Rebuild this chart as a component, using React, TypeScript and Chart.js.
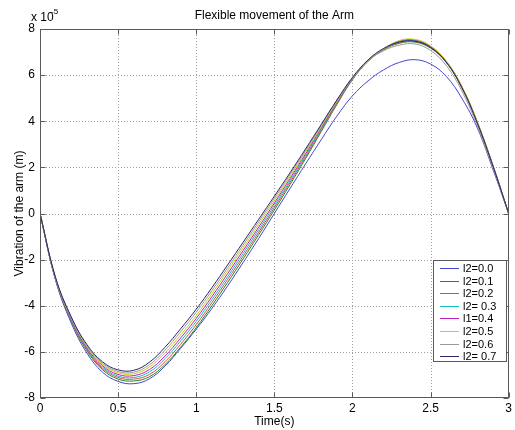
import React, { useEffect, useRef } from 'react';
import { Chart, registerables } from 'chart.js';

Chart.register(...registerables);

// Time samples (s)
const TIME = [0, 0.1, 0.2, 0.3, 0.4, 0.5, 0.6, 0.7, 0.8, 0.9, 1.0, 1.1, 1.2, 1.3, 1.4, 1.5, 1.6, 1.7, 1.8, 1.9, 2.0, 2.1, 2.2, 2.3, 2.4, 2.5, 2.6, 2.7, 2.8, 2.9, 3.0];

// Vibration values in units of 1e-5 m
const L2_00 = [0, -2.9, -4.75, -6.05, -6.88, -7.28, -7.38, -7.17, -6.62, -5.85, -5.02, -4.12, -3.15, -2.13, -1.08, 0.0, 1.08, 2.15, 3.2, 4.22, 5.1, 5.75, 6.23, 6.55, 6.67, 6.48, 5.95, 5.0, 3.7, 1.9, 0];
const L2_01 = [0, -2.88, -4.65, -5.95, -6.77, -7.18, -7.26, -7.08, -6.55, -5.8, -4.95, -4.0, -3.0, -1.97, -0.92, 0.15, 1.25, 2.38, 3.55, 4.72, 5.8, 6.6, 7.1, 7.38, 7.43, 7.17, 6.55, 5.45, 3.9, 2.05, 0];
const L2_02 = [0, -2.86, -4.62, -5.9, -6.71, -7.11, -7.18, -6.98, -6.43, -5.67, -4.82, -3.87, -2.87, -1.85, -0.81, 0.25, 1.34, 2.45, 3.6, 4.75, 5.82, 6.61, 7.11, 7.42, 7.47, 7.2, 6.56, 5.46, 3.91, 2.05, 0];
const L2_03 = [0, -2.85, -4.59, -5.86, -6.66, -7.05, -7.11, -6.87, -6.3, -5.53, -4.68, -3.74, -2.75, -1.73, -0.7, 0.35, 1.42, 2.52, 3.65, 4.79, 5.83, 6.62, 7.12, 7.45, 7.5, 7.23, 6.58, 5.48, 3.93, 2.06, 0];
const L1_04 = [0, -2.83, -4.57, -5.82, -6.6, -6.98, -7.03, -6.77, -6.18, -5.4, -4.55, -3.61, -2.62, -1.61, -0.59, 0.45, 1.51, 2.59, 3.71, 4.82, 5.85, 6.63, 7.13, 7.47, 7.52, 7.25, 6.6, 5.5, 3.95, 2.07, 0];
const L2_05 = [0, -2.81, -4.54, -5.77, -6.54, -6.91, -6.95, -6.66, -6.05, -5.27, -4.42, -3.48, -2.49, -1.49, -0.47, 0.55, 1.59, 2.66, 3.76, 4.85, 5.87, 6.64, 7.14, 7.5, 7.55, 7.27, 6.62, 5.52, 3.97, 2.08, 0];
const L2_06 = [0, -2.8, -4.51, -5.73, -6.49, -6.85, -6.88, -6.56, -5.93, -5.13, -4.28, -3.35, -2.37, -1.37, -0.36, 0.65, 1.68, 2.73, 3.81, 4.89, 5.86, 6.62, 7.06, 7.3, 7.35, 7.07, 6.42, 5.32, 3.78, 1.95, 0];
const L2_07 = [0, -2.78, -4.48, -5.68, -6.43, -6.78, -6.8, -6.45, -5.8, -5.0, -4.15, -3.22, -2.24, -1.25, -0.25, 0.75, 1.76, 2.8, 3.86, 4.92, 5.9, 6.66, 7.16, 7.43, 7.47, 7.2, 6.57, 5.47, 3.92, 2.05, 0];

const SERIES = [L2_00, L2_01, L2_02, L2_03, L1_04, L2_05, L2_06, L2_07];
const SERIES_LABELS = ['l2=0.0', 'l2=0.1', 'l2=0.2', 'l2= 0.3', 'l1=0.4', 'l2=0.5', 'l2=0.6', 'l2= 0.7'];
const SERIES_COLORS = ['#4646d2', '#1f8a1f', '#e04848', '#10c0c0', '#c020c0', '#cccc10', '#9a9a9a', '#26266e'];

const X_TICKS = [0, 0.5, 1, 1.5, 2, 2.5, 3];
const Y_TICKS = [-8, -6, -4, -2, 0, 2, 4, 6, 8];

const TITLE = 'Flexible movement of the Arm';
const X_LABEL = 'Time(s)';
const Y_LABEL = 'Vibration of the arm (m)';

const FONT = '"Liberation Sans", Arial, sans-serif';

const framePlugin = {
  id: 'matlabFrame',
  beforeDatasetsDraw(chart: any) {
    const { ctx, chartArea, scales } = chart;
    const { left, right, top, bottom } = chartArea;
    ctx.save();
    ctx.strokeStyle = '#a0a0a0';
    ctx.lineWidth = 1;
    ctx.setLineDash([1, 2]);
    X_TICKS.slice(1, -1).forEach((v) => {
      const px = Math.round(scales.x.getPixelForValue(v)) + 0.5;
      ctx.beginPath();
      ctx.moveTo(px, top);
      ctx.lineTo(px, bottom);
      ctx.stroke();
    });
    Y_TICKS.slice(1, -1).forEach((v) => {
      const py = Math.round(scales.y.getPixelForValue(v)) + 0.5;
      ctx.beginPath();
      ctx.moveTo(left, py);
      ctx.lineTo(right, py);
      ctx.stroke();
    });
    ctx.restore();
  },
  afterDatasetsDraw(chart: any) {
    const { ctx, chartArea, scales } = chart;
    const { left, right, top, bottom } = chartArea;
    const L = Math.round(left) + 0.5;
    const R = Math.round(right) - 0.5;
    const T = Math.round(top) + 0.5;
    const B = Math.round(bottom) - 0.5;
    ctx.save();
    ctx.setLineDash([]);
    ctx.strokeStyle = '#5a5a5a';
    ctx.lineWidth = 1;
    ctx.strokeRect(L, T, R - L, B - T);
    const tl = 5;
    X_TICKS.forEach((v) => {
      const px = Math.round(scales.x.getPixelForValue(v)) + 0.5;
      ctx.beginPath();
      ctx.moveTo(px, B);
      ctx.lineTo(px, B - tl);
      ctx.moveTo(px, T);
      ctx.lineTo(px, T + tl);
      ctx.stroke();
    });
    Y_TICKS.forEach((v) => {
      const py = Math.round(scales.y.getPixelForValue(v)) + 0.5;
      ctx.beginPath();
      ctx.moveTo(L, py);
      ctx.lineTo(L + tl, py);
      ctx.moveTo(R, py);
      ctx.lineTo(R - tl, py);
      ctx.stroke();
    });

    // Legend
    const bx = 433.5, by = 260.5, bw = 73, bh = 101;
    ctx.fillStyle = '#ffffff';
    ctx.fillRect(bx, by, bw, bh);
    ctx.strokeStyle = '#5a5a5a';
    ctx.strokeRect(bx, by, bw, bh);
    ctx.font = `11px ${FONT}`;
    ctx.textBaseline = 'middle';
    ctx.textAlign = 'left';
    SERIES_LABELS.forEach((lab, i) => {
      const yy = Math.round(268 + i * 12.6) + 0.5;
      ctx.strokeStyle = SERIES_COLORS[i];
      ctx.beginPath();
      ctx.moveTo(440, yy);
      ctx.lineTo(459, yy);
      ctx.stroke();
      ctx.fillStyle = '#000000';
      ctx.fillText(lab, 463, yy);
    });

    // Texts
    ctx.fillStyle = '#000000';
    ctx.font = `12px ${FONT}`;
    ctx.textAlign = 'center';
    ctx.textBaseline = 'middle';
    ctx.fillText(TITLE, (left + right) / 2, 16);
    ctx.fillText(X_LABEL, (left + right) / 2, 422);
    ctx.save();
    ctx.translate(20, (top + bottom) / 2);
    ctx.rotate(-Math.PI / 2);
    ctx.fillText(Y_LABEL, 0, 0);
    ctx.restore();

    ctx.textAlign = 'left';
    ctx.textBaseline = 'alphabetic';
    ctx.font = `12px ${FONT}`;
    ctx.fillText('x 10', 31, 21);
    ctx.font = `8px ${FONT}`;
    ctx.fillText('-5', 51, 14);
    ctx.restore();
  },
};

export default function App() {
  const canvasRef = useRef<HTMLCanvasElement | null>(null);

  useEffect(() => {
    document.body.style.margin = '0';
    const canvas = canvasRef.current;
    if (!canvas) return;
    const chart = new Chart(canvas, {
      type: 'line',
      data: {
        datasets: SERIES.map((vals, i) => ({
          label: SERIES_LABELS[i],
          data: TIME.map((t, j) => ({ x: t, y: vals[j] })),
          borderColor: SERIES_COLORS[i],
          backgroundColor: SERIES_COLORS[i],
          borderWidth: 1,
          pointRadius: 0,
          fill: false,
          tension: 0.4,
          order: SERIES.length - i,
        })),
      },
      options: {
        animation: false,
        responsive: false,
        devicePixelRatio: 1,
        layout: { padding: { top: 29, right: 6, left: 0, bottom: 0 } },
        plugins: {
          legend: { display: false },
          title: { display: false },
          tooltip: { enabled: false },
        },
        scales: {
          x: {
            type: 'linear',
            min: 0,
            max: 3,
            grid: { display: false, drawTicks: false },
            border: { display: false },
            ticks: {
              stepSize: 0.5,
              autoSkip: false,
              maxRotation: 0,
              padding: 3,
              color: '#000',
              font: { family: FONT, size: 12 },
              callback: (v: any) => String(v),
            },
            afterFit: (scale: any) => {
              scale.height = 32;
            },
          },
          y: {
            type: 'linear',
            min: -8,
            max: 8,
            grid: { display: false, drawTicks: false },
            border: { display: false },
            ticks: {
              stepSize: 2,
              autoSkip: false,
              padding: 5,
              color: '#000',
              font: { family: FONT, size: 12 },
              callback: (v: any) => String(v),
            },
            afterFit: (scale: any) => {
              scale.width = 40;
            },
          },
        },
      },
      plugins: [framePlugin],
    });
    return () => chart.destroy();
  }, []);

  return (
    <div style={{ position: 'absolute', left: 0, top: 0, width: 515, height: 430, background: '#fff' }}>
      <canvas ref={canvasRef} width={515} height={430} style={{ display: 'block', width: 515, height: 430 }} />
    </div>
  );
}
